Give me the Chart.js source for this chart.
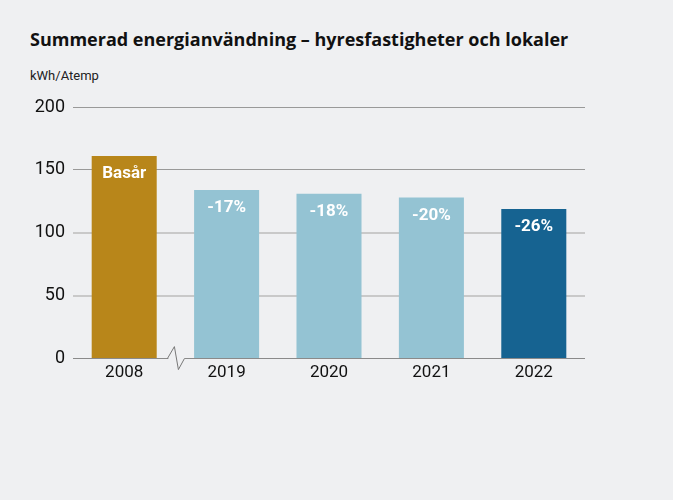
<!DOCTYPE html>
<html>
<head>
<meta charset="utf-8">
<script src="https://cdn.jsdelivr.net/npm/chart.js@4"></script>
<style>
    body { margin: 0; background: #eff0f2; }
    .wrap { position: relative; width: 673px; height: 500px; }
    .title { position: absolute; left: 30px; top: 27px; font: bold 18px "Open Sans", sans-serif; line-height: 24px; color: #111; }
    .unit { position: absolute; left: 30px; top: 68px; font: 13px Roboto, sans-serif; line-height: 16px; color: #222; }
    canvas { position: absolute; left: 0; top: 0; }
</style>
</head>
<body>
<div class="wrap">
    <div class="title">Summerad energianvändning – hyresfastigheter och lokaler</div>
    <div class="unit">kWh/Atemp</div>
    <canvas id="energy_chart" width="673" height="500"></canvas>
</div>
<script>
const years = ['2008', '2019', '2020', '2021', '2022']
const energy = [161, 134, 131, 128, 119]
const change_labels = ['Basår', '-17%', '-18%', '-20%', '-26%']
const bar_colors = ['#b8861a', '#94c3d3', '#94c3d3', '#94c3d3', '#166391']

// text inside the top of each bar
const barText = {
    id: 'barText',
    afterDatasetsDraw(chart){
        const ctx = chart.ctx
        const bars = chart.getDatasetMeta(0).data
        ctx.save()
        ctx.fillStyle = '#ffffff'
        ctx.font = 'bold 17px Roboto, sans-serif'
        ctx.textAlign = 'center'
        ctx.textBaseline = 'middle'
        bars.forEach((bar, i) => ctx.fillText(change_labels[i], bar.x, bar.y + 18))
        ctx.restore()
    }
}

// axis break between 2008 and 2019
const axisBreak = {
    id: 'axisBreak',
    afterDraw(chart){
        const ctx = chart.ctx
        const mid = chart.scales.x.getPixelForValue(0.5)
        const base = chart.scales.y.getPixelForValue(0)
        ctx.save()
        ctx.fillStyle = '#eff0f2'
        ctx.fillRect(mid - 7, base - 2, 16, 4)
        ctx.strokeStyle = '#777'
        ctx.lineWidth = 1
        ctx.beginPath()
        ctx.moveTo(mid - 8, base)
        ctx.lineTo(mid - 1, base - 12)
        ctx.lineTo(mid + 3, base + 11)
        ctx.lineTo(mid + 9, base)
        ctx.stroke()
        ctx.restore()
    }
}

new Chart(document.querySelector('#energy_chart'), {
    type: 'bar',
    data: {
        labels: years,
        datasets: [{
            data: energy,
            backgroundColor: bar_colors,
            barPercentage: 0.635,
            categoryPercentage: 1
        }]
    },
    options: {
        responsive: false,
        animation: false,
        layout: { padding: { left: 30, right: 88, top: 107, bottom: 113 } },
        plugins: { legend: { display: false }, tooltip: { enabled: false } },
        scales: {
            x: {
                grid: { display: false, drawTicks: false },
                border: { display: false },
                ticks: { color: '#111', font: { family: 'Roboto', size: 17 }, padding: 4 }
            },
            y: {
                min: 0,
                max: 200,
                afterFit: s => { s.width = 43 },
                ticks: { stepSize: 50, color: '#111', font: { family: 'Roboto', size: 18 }, padding: 8 },
                border: { display: false },
                grid: {
                    drawTicks: false,
                    color: c => c.tick.value >= 150 ? '#999999' : (c.tick.value == 0 ? '#8a8a8a' : '#c9c9c9'),
                    lineWidth: c => (c.tick.value == 50 || c.tick.value == 100) ? 2 : 1
                }
            }
        }
    },
    plugins: [barText, axisBreak]
})
</script>
</body>
</html>
